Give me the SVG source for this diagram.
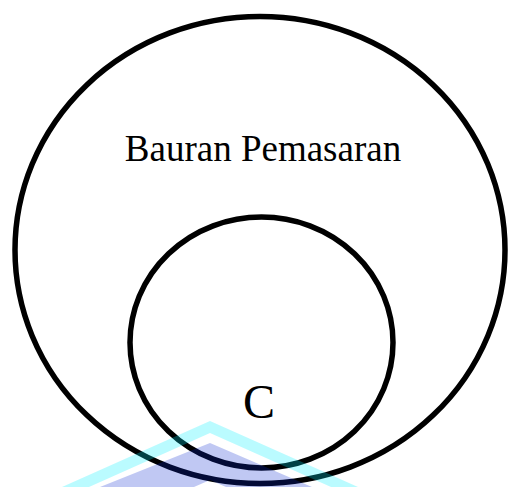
<svg xmlns="http://www.w3.org/2000/svg" width="508" height="487" viewBox="0 0 508 487">
  <style>
    .ring { fill: none; stroke: #000; stroke-width: 5.5; }
    .lbl { font-family: "Liberation Serif", "Times New Roman", serif; fill: #000; text-anchor: middle; }
    .wm-cyan { fill: #00f0ff; fill-opacity: 0.27; }
    .wm-blue { fill: #0a2ad0; fill-opacity: 0.26; }
  </style>
  <rect width="508" height="487" fill="#fff"/>
  <g id="bauran-pemasaran">
    <ellipse class="ring" cx="260" cy="250" rx="245" ry="233.5"/>
    <text class="lbl" x="263" y="161" font-size="37">Bauran Pemasaran</text>
  </g>
  <g id="c">
    <ellipse class="ring" cx="261.5" cy="342.5" rx="131.5" ry="125.5"/>
    <text class="lbl" x="259" y="418" font-size="48">C</text>
  </g>
  <g id="connectors"/>
  <g id="watermark">
    <polygon class="wm-cyan" points="62,487 210,421 358,487 331,487 210,433 89,487"/>
    <polygon class="wm-blue" points="100,487 210,443 312,487 226,487 210,480 194,487"/>
  </g>
</svg>
